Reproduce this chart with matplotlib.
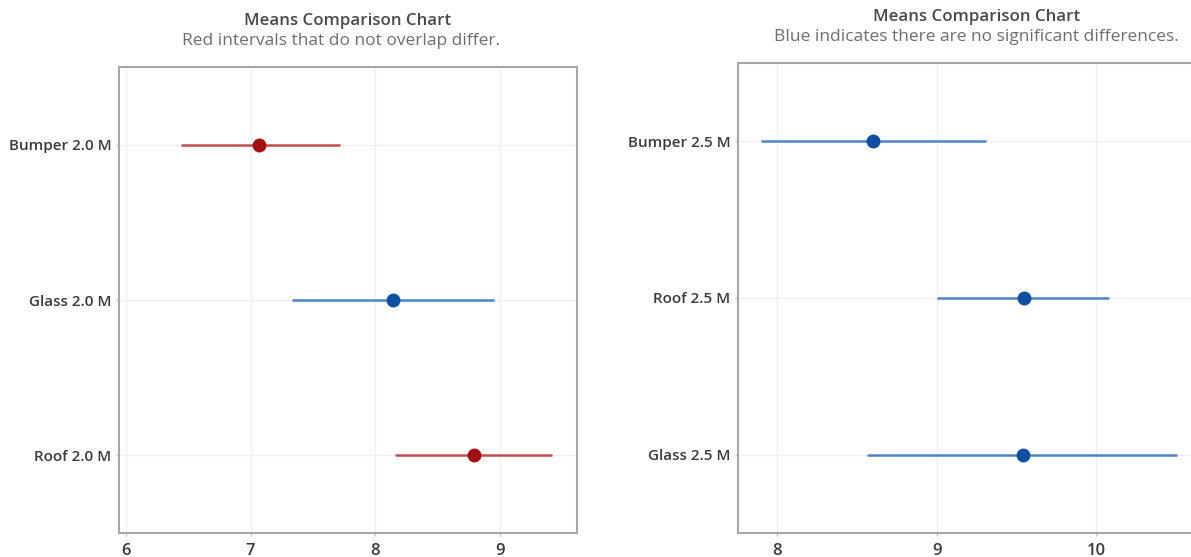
import matplotlib
matplotlib.use("Agg")
import matplotlib.pyplot as plt

# data
left_labels = ["Bumper 2.0 M", "Glass 2.0 M", "Roof 2.0 M"]
left_mean = [7.07, 8.14, 8.79]
left_low = [6.44, 7.33, 8.16]
left_high = [7.72, 8.95, 9.42]
left_red = [True, False, True]

right_labels = ["Bumper 2.5 M", "Roof 2.5 M", "Glass 2.5 M"]
right_mean = [8.60, 9.55, 9.54]
right_low = [7.90, 9.00, 8.565]
right_high = [9.31, 10.08, 10.51]
right_red = [False, False, False]

left_ticks = [6, 7, 8, 9]
right_ticks = [8, 9, 10]

RED_LINE, RED_DOT = "#c0504d", "#a50f0f"
BLUE_LINE, BLUE_DOT = "#4a86c8", "#0d4fa3"

plt.rcParams["font.family"] = ["Open Sans", "DejaVu Sans"]

fig = plt.figure(figsize=(11.91, 5.57), dpi=100)


def draw_panel(ax, labels, mean, low, high, red, ticks, xlim):
    y = list(range(len(labels)))
    for i in y:
        lc = RED_LINE if red[i] else BLUE_LINE
        dc = RED_DOT if red[i] else BLUE_DOT
        ax.plot([low[i], high[i]], [i, i], color=lc, lw=1.8, solid_capstyle="butt", zorder=3)
        ax.plot(mean[i], i, "o", color=dc, ms=9, zorder=4)
    ax.set_yticks(y)
    ax.set_yticklabels(labels)
    ax.set_xticks(ticks)
    ax.set_xlim(*xlim)
    ax.set_ylim(len(labels) - 0.5, -0.5)
    ax.grid(True, color="#f0f0f0", lw=1.0, zorder=0)
    ax.set_axisbelow(True)
    for s in ax.spines.values():
        s.set_color("#a6a6a6")
        s.set_linewidth(1.5)
    ax.tick_params(length=2, width=1, color="#c8c8c8", colors="#3a3a3a", labelsize=11)
    for t in ax.get_xticklabels() + ax.get_yticklabels():
        t.set_fontweight("semibold")
    ax.tick_params(axis="x", labelsize=12, pad=5)


ax1 = fig.add_axes([0.0999, 0.0431, 0.3846, 0.8366])
draw_panel(ax1, left_labels, left_mean, left_low, left_high, left_red, left_ticks, (5.944, 9.62))

ax2 = fig.add_axes([0.6197, 0.0431, 0.4010, 0.8438])
draw_panel(ax2, right_labels, right_mean, right_low, right_high, right_red, right_ticks, (7.755, 10.75))

cx1 = 0.0999 + 0.3846 / 2
cx2 = 0.6197 + 0.4010 / 2
fig.text(cx1, 0.962, "Means Comparison Chart", ha="center", va="center",
         fontsize=12.2, fontweight="semibold", color="#4a4a4a")
fig.text(cx1 - 0.006, 0.926, "Red intervals that do not overlap differ.", ha="center", va="center",
         fontsize=12.5, color="#6e6e6e")
fig.text(cx2, 0.969, "Means Comparison Chart", ha="center", va="center",
         fontsize=12.2, fontweight="semibold", color="#4a4a4a")
fig.text(cx2, 0.934, "Blue indicates there are no significant differences.", ha="center", va="center",
         fontsize=12.5, color="#6e6e6e")

fig.savefig("out.png", dpi=100)
